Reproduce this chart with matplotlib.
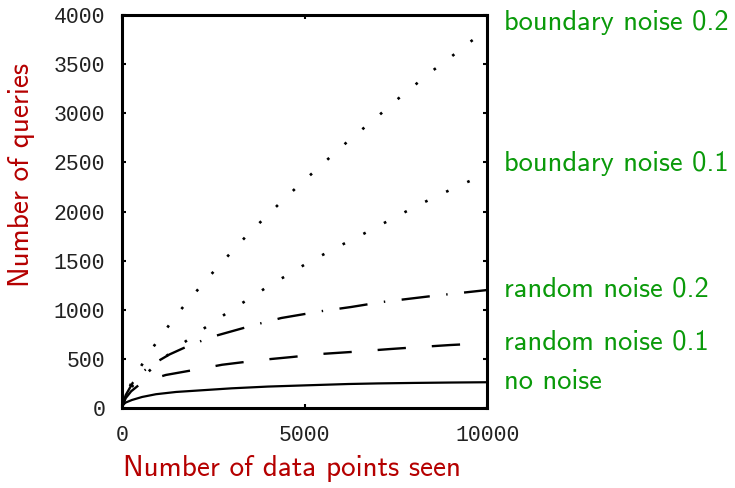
import matplotlib
matplotlib.use("Agg")
import matplotlib.pyplot as plt

# data
x_none = [0, 20, 100, 270, 550, 930, 1480, 2300, 3000, 4000, 5000, 6200, 7000, 8000, 9000, 10000]
y_none = [0, 30, 55, 81, 112, 140, 163, 183, 200, 218, 230, 244, 250, 255, 259, 262]

x_rand1 = [0, 100, 250, 450, 700, 1200, 1970, 2740, 3810, 4660, 5450, 6270, 7340, 8160, 8990, 10000]
y_rand1 = [0, 100, 170, 230, 280, 336, 387, 440, 489, 519, 550, 570, 600, 621, 641, 660]

x_rand2 = [0, 100, 300, 500, 740, 1000, 1300, 1750, 2440, 3620, 4360, 5480, 6270, 7120, 8490, 10000]
y_rand2 = [0, 130, 260, 350, 417, 480, 545, 621, 722, 845, 916, 987, 1028, 1079, 1140, 1201]

x_bnd1 = [0, 100, 300, 710, 1180, 1640, 2140, 2630, 3070, 3560, 4050, 4580, 5070, 5590,
          6110, 6550, 7070, 7590, 8110, 9150, 9700, 10000]
y_bnd1 = [0, 110, 230, 366, 519, 651, 784, 906, 1018, 1130, 1252, 1364, 1476, 1578,
          1679, 1761, 1863, 1964, 2066, 2250, 2341, 2400]

x_bnd2 = [0, 100, 250, 490, 795, 1510, 2300, 3070, 3480, 4380, 4820, 5730, 6190, 6550,
          7010, 7480, 7950, 8410, 8900, 9370, 9860, 10000]
y_bnd2 = [0, 120, 250, 407, 590, 957, 1303, 1618, 1781, 2107, 2260, 2565, 2718, 2829,
          2972, 3125, 3267, 3410, 3542, 3684, 3817, 3850]

labels = ["no noise", "random noise 0.1", "random noise 0.2", "boundary noise 0.1", "boundary noise 0.2"]
label_y = [265, 672, 1211, 2494, 3929]

red = "#b50000"
green = "#0a9a0a"

fig = plt.figure(figsize=(7.35, 4.88), dpi=100)
ax = fig.add_axes([0.166, 0.164, 0.497, 0.805])

ax.plot(x_none, y_none, color="black", lw=1.6, solid_capstyle="butt")
ax.plot(x_rand1, y_rand1, color="black", lw=1.7, linestyle=(0, (12, 11)))
ax.plot(x_rand2, y_rand2, color="black", lw=1.7, linestyle=(0, (12, 7, 0.6, 7)))
ax.plot(x_bnd1, y_bnd1, color="black", lw=1.9, linestyle=(0, (1.0, 7.8)))
ax.plot(x_bnd2, y_bnd2, color="black", lw=1.9, linestyle=(0, (1.0, 7.8)))

ax.set_xlim(0, 10000)
ax.set_ylim(0, 4000)
ax.set_xticks([0, 5000, 10000])
ax.set_yticks(range(0, 4001, 500))

for s in ax.spines.values():
    s.set_linewidth(2.2)

ax.tick_params(direction="in", length=3, width=1.5, top=True, right=True, pad=12)
for t in ax.get_xticklabels() + ax.get_yticklabels():
    t.set_fontfamily("Liberation Mono")
    t.set_fontsize(15.5)
    t.set_color("#222222")

ax.set_xlabel("Number of data points seen", fontfamily="cmss10", fontsize=21, color=red, va="center")
ax.set_ylabel("Number of queries", fontfamily="cmss10", fontsize=21, color=red, va="center")
ax.xaxis.set_label_coords(0.466, -0.153)
ax.yaxis.set_label_coords(-0.274, 0.593)

for lab, yy in zip(labels, label_y):
    ax.annotate(lab, xy=(1.0, yy), xycoords=("axes fraction", "data"),
                xytext=(12, 0), textcoords="offset points", va="center", ha="left",
                fontfamily="cmss10", fontsize=20.5, color=green, annotation_clip=False)

fig.savefig("out.png", dpi=100)
